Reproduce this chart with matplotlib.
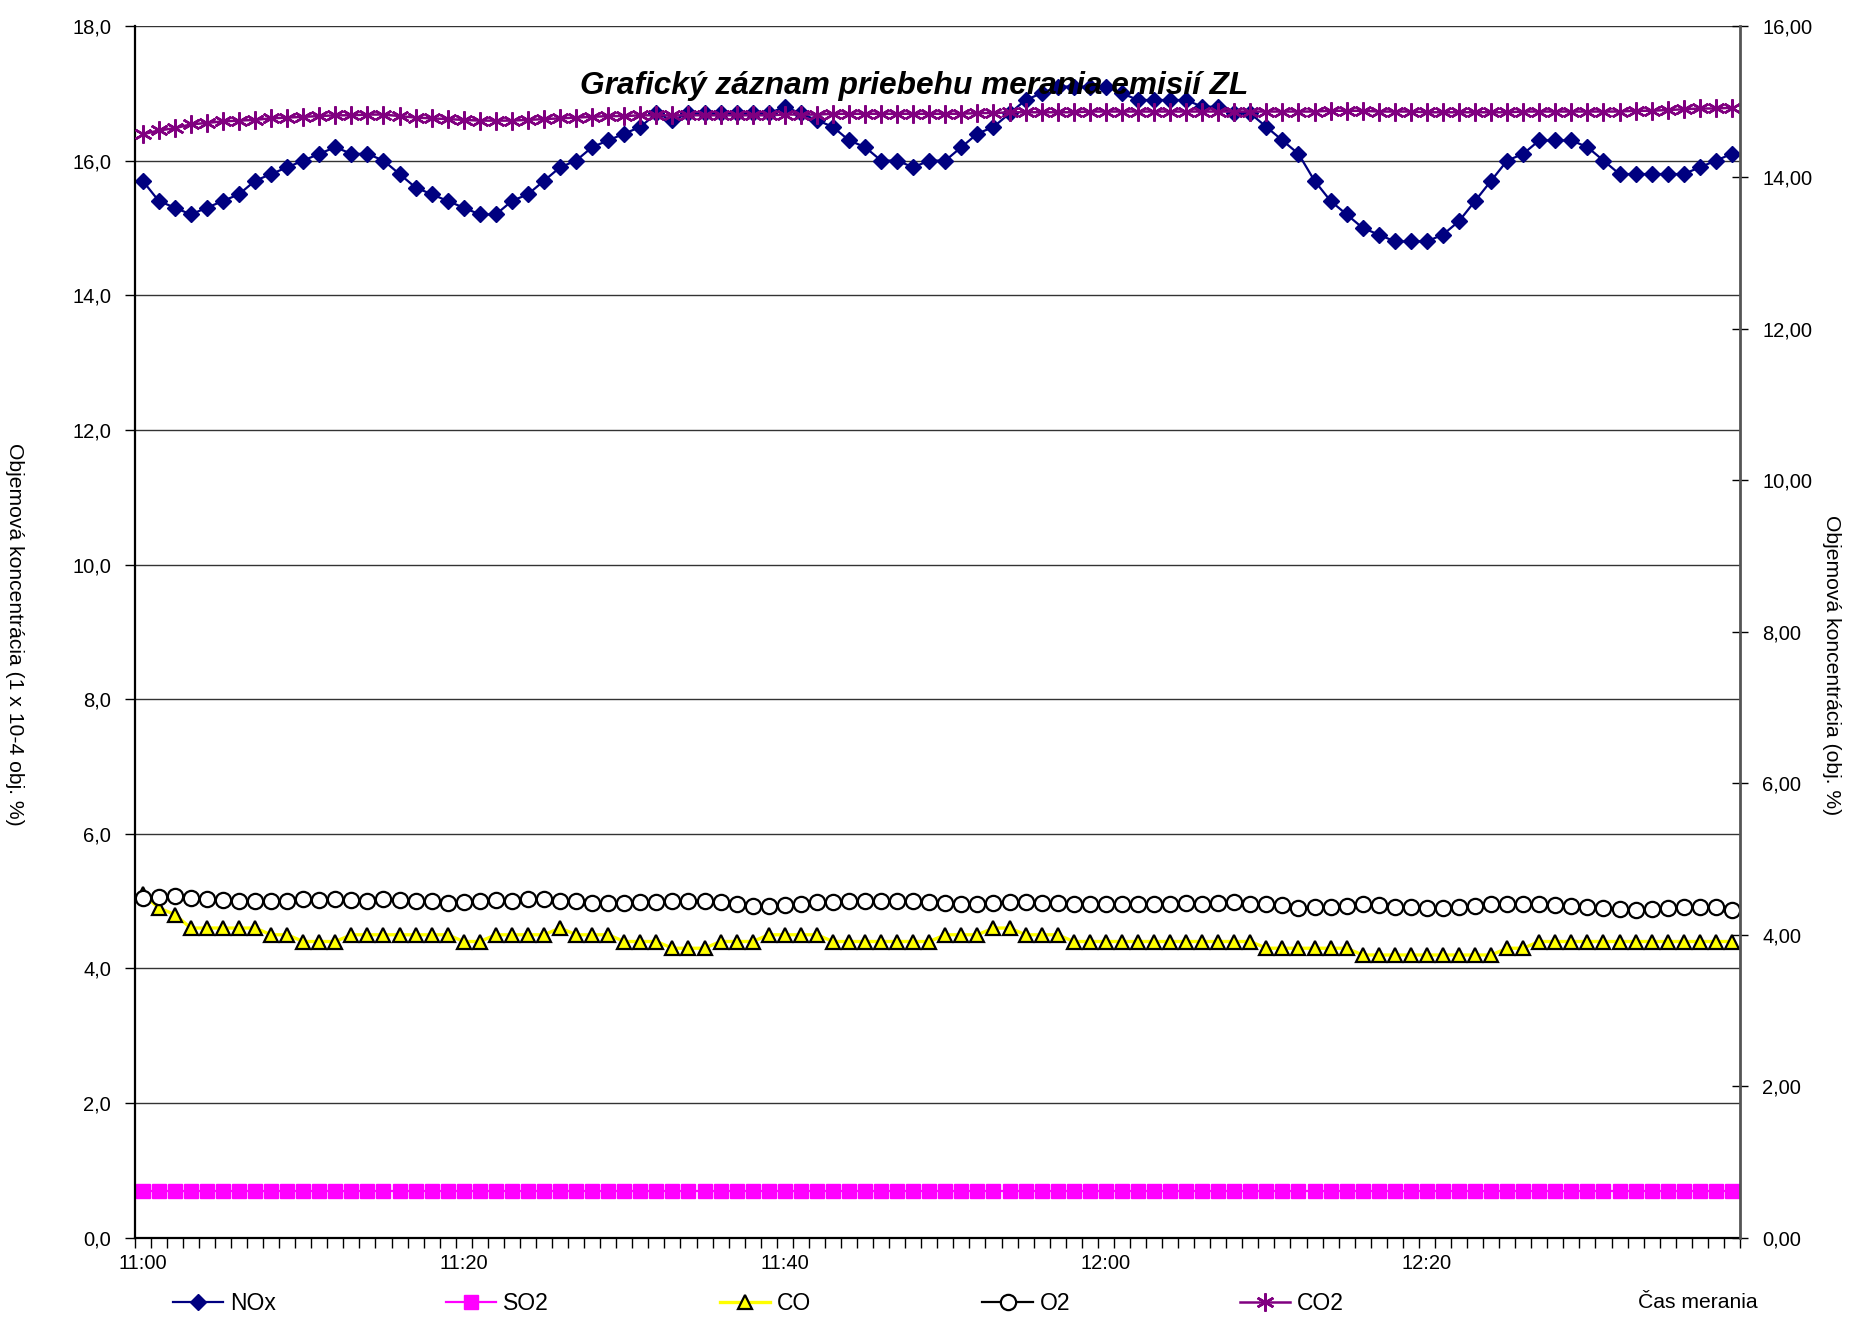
import numpy as np
import pandas as pd
import matplotlib
matplotlib.use('Agg')
import matplotlib.pyplot as plt
from matplotlib.ticker import FuncFormatter, MultipleLocator

plt.rcParams['font.family'] = ['Liberation Sans', 'DejaVu Sans']

# one reading per minute, 11:00 - 12:39
times = pd.date_range('2000-01-01 11:00', periods=100, freq='min')

# left axis (1 x 10-4 obj. %)
nox = [15.7, 15.4, 15.3, 15.2, 15.3, 15.4, 15.5, 15.7, 15.8, 15.9,
       16.0, 16.1, 16.2, 16.1, 16.1, 16.0, 15.8, 15.6, 15.5, 15.4,
       15.3, 15.2, 15.2, 15.4, 15.5, 15.7, 15.9, 16.0, 16.2, 16.3,
       16.4, 16.5, 16.7, 16.6, 16.7, 16.7, 16.7, 16.7, 16.7, 16.7,
       16.8, 16.7, 16.6, 16.5, 16.3, 16.2, 16.0, 16.0, 15.9, 16.0,
       16.0, 16.2, 16.4, 16.5, 16.7, 16.9, 17.0, 17.1, 17.1, 17.1,
       17.1, 17.0, 16.9, 16.9, 16.9, 16.9, 16.8, 16.8, 16.7, 16.7,
       16.5, 16.3, 16.1, 15.7, 15.4, 15.2, 15.0, 14.9, 14.8, 14.8,
       14.8, 14.9, 15.1, 15.4, 15.7, 16.0, 16.1, 16.3, 16.3, 16.3,
       16.2, 16.0, 15.8, 15.8, 15.8, 15.8, 15.8, 15.9, 16.0, 16.1]
so2 = [0.7] * 100
co = [5.1, 4.9, 4.8, 4.6, 4.6, 4.6, 4.6, 4.6, 4.5, 4.5,
      4.4, 4.4, 4.4, 4.5, 4.5, 4.5, 4.5, 4.5, 4.5, 4.5,
      4.4, 4.4, 4.5, 4.5, 4.5, 4.5, 4.6, 4.5, 4.5, 4.5,
      4.4, 4.4, 4.4, 4.3, 4.3, 4.3, 4.4, 4.4, 4.4, 4.5,
      4.5, 4.5, 4.5, 4.4, 4.4, 4.4, 4.4, 4.4, 4.4, 4.4,
      4.5, 4.5, 4.5, 4.6, 4.6, 4.5, 4.5, 4.5, 4.4, 4.4,
      4.4, 4.4, 4.4, 4.4, 4.4, 4.4, 4.4, 4.4, 4.4, 4.4,
      4.3, 4.3, 4.3, 4.3, 4.3, 4.3, 4.2, 4.2, 4.2, 4.2,
      4.2, 4.2, 4.2, 4.2, 4.2, 4.3, 4.3, 4.4, 4.4, 4.4,
      4.4, 4.4, 4.4, 4.4, 4.4, 4.4, 4.4, 4.4, 4.4, 4.4]

# right axis (obj. %)
o2 = [4.48, 4.50, 4.51, 4.48, 4.47, 4.46, 4.44, 4.44, 4.44, 4.45,
      4.47, 4.46, 4.47, 4.46, 4.45, 4.47, 4.46, 4.45, 4.45, 4.42,
      4.43, 4.45, 4.46, 4.45, 4.47, 4.47, 4.45, 4.44, 4.42, 4.42,
      4.42, 4.43, 4.43, 4.44, 4.44, 4.44, 4.43, 4.41, 4.38, 4.38,
      4.39, 4.41, 4.43, 4.43, 4.44, 4.45, 4.45, 4.45, 4.44, 4.43,
      4.42, 4.41, 4.40, 4.42, 4.43, 4.43, 4.42, 4.42, 4.40, 4.40,
      4.40, 4.41, 4.41, 4.41, 4.41, 4.42, 4.41, 4.42, 4.43, 4.41,
      4.40, 4.39, 4.36, 4.37, 4.37, 4.38, 4.40, 4.39, 4.37, 4.37,
      4.35, 4.36, 4.37, 4.38, 4.40, 4.40, 4.40, 4.40, 4.39, 4.38,
      4.37, 4.36, 4.34, 4.33, 4.34, 4.35, 4.37, 4.37, 4.37, 4.33]
co2 = [14.57, 14.62, 14.65, 14.70, 14.72, 14.74, 14.75, 14.76, 14.78, 14.79,
       14.80, 14.81, 14.82, 14.82, 14.83, 14.83, 14.81, 14.79, 14.78, 14.77,
       14.76, 14.75, 14.75, 14.75, 14.76, 14.77, 14.78, 14.79, 14.80, 14.81,
       14.81, 14.82, 14.82, 14.82, 14.82, 14.82, 14.82, 14.82, 14.82, 14.82,
       14.83, 14.83, 14.83, 14.84, 14.84, 14.84, 14.84, 14.84, 14.84, 14.84,
       14.84, 14.84, 14.85, 14.85, 14.86, 14.86, 14.86, 14.86, 14.86, 14.87,
       14.87, 14.87, 14.87, 14.87, 14.87, 14.87, 14.87, 14.87, 14.87, 14.87,
       14.87, 14.87, 14.87, 14.87, 14.88, 14.88, 14.88, 14.87, 14.87, 14.87,
       14.86, 14.86, 14.86, 14.86, 14.86, 14.86, 14.87, 14.87, 14.87, 14.87,
       14.87, 14.87, 14.87, 14.88, 14.88, 14.89, 14.90, 14.91, 14.91, 14.92]

x = np.arange(len(times))

fig = plt.figure(figsize=(18.5, 13.17), dpi=100)
ax = fig.add_axes([0.0728, 0.0602, 0.8677, 0.9201])
ax2 = ax.twinx()

h_nox, = ax.plot(x, nox, color='#000080', lw=1.6, marker='D', ms=8.5,
                 mfc='#000080', mec='#000080', label='NOx')
h_so2, = ax.plot(x, so2, color='#FF00FF', lw=1.6, marker='s', ms=10.5,
                 mfc='#FF00FF', mec='#FF00FF', label='SO2')
h_co, = ax.plot(x, co, color='#FFFF00', lw=2.4, marker='^', ms=10.5,
                mfc='#FFFF00', mec='black', mew=1.6, label='CO')
h_o2, = ax2.plot(x, o2, color='black', lw=1.6, marker='o', ms=11,
                 mfc='white', mec='black', mew=1.6, label='O2')
h_co2, = ax2.plot(x, co2, color='#800080', lw=1.8, marker=(6, 2, 0), ms=13,
                  mec='#800080', mew=1.8, label='CO2')

ax.set_xlim(-0.5, len(x) - 0.5)
ax.set_ylim(0, 18)
ax2.set_ylim(0, 16)
ax.yaxis.set_major_locator(MultipleLocator(2))
ax2.yaxis.set_major_locator(MultipleLocator(2))
ax.yaxis.set_major_formatter(FuncFormatter(lambda v, p: f'{v:.1f}'.replace('.', ',')))
ax2.yaxis.set_major_formatter(FuncFormatter(lambda v, p: f'{v:.2f}'.replace('.', ',')))

ax.set_xticks(x[::20])
ax.set_xticklabels(times[::20].strftime('%H:%M').str.lstrip('0'))
ax.set_xticks(np.arange(-0.5, len(x)), minor=True)
ax.tick_params(axis='x', which='major', length=0, labelsize=14.5, pad=12)
ax.tick_params(axis='x', which='minor', length=7, width=1, direction='out')
ax.tick_params(axis='y', length=7, width=1, direction='out', labelsize=14.5, pad=10)
ax2.tick_params(axis='y', length=12, width=1, direction='inout', labelsize=14.5, pad=10)

ax.grid(True, axis='y', color='#333333', lw=1)
ax.set_axisbelow(True)
ax.spines['top'].set_visible(False)
ax2.spines['top'].set_visible(False)
ax2.spines['left'].set_visible(False)
ax2.spines['bottom'].set_visible(False)
ax.spines['right'].set_visible(False)
ax.spines['left'].set_linewidth(1.6)
ax.spines['bottom'].set_linewidth(1.6)
ax2.spines['right'].set_linewidth(2)
ax2.spines['right'].set_color('#555555')

fig.text(0.494, 0.935, 'Grafický záznam priebehu merania emisií ZL', ha='center',
         va='center', fontsize=22.8, fontweight='bold', fontstyle='italic')
fig.text(0.0076, 0.5186, 'Objemová koncentrácia (1 x 10-4 obj. %)', rotation=-90,
         ha='center', va='center', fontsize=15.2)
fig.text(0.990, 0.495, 'Objemová koncentrácia (obj. %)', rotation=-90,
         ha='center', va='center', fontsize=15.2)
fig.text(0.918, 0.011, 'Čas merania', ha='center', va='center', fontsize=15.2)

# legend entries spaced evenly along the bottom, as in the original
for h, xpos in zip([h_nox, h_so2, h_co, h_o2, h_co2], [0.0934, 0.241, 0.389, 0.531, 0.670]):
    fig.legend([h], [h.get_label()], loc='center left', bbox_to_anchor=(xpos, 0.010),
               frameon=False, fontsize=16.5, handlelength=2.2, handletextpad=0.3,
               numpoints=1, borderaxespad=0, borderpad=0)

fig.savefig('out.png', dpi=100)
